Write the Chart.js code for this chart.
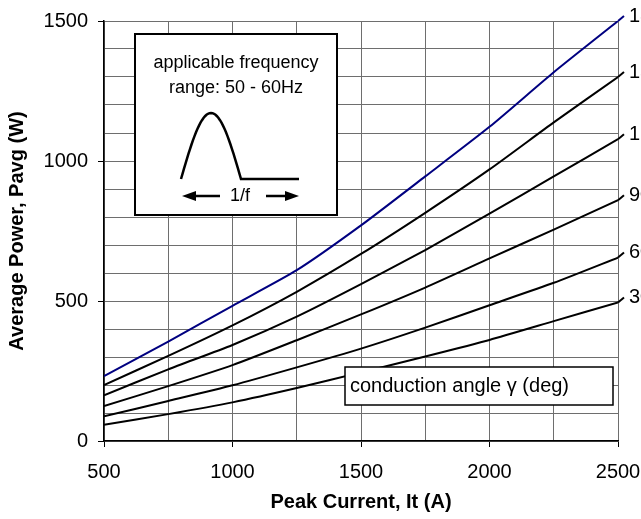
<!DOCTYPE html>
<html>
<head>
<meta charset="utf-8">
<script src="https://cdn.jsdelivr.net/npm/chart.js@4.4.1/dist/chart.umd.min.js"></script>
<style>
  html, body { margin: 0; padding: 0; background: #fff; }
  #wrap { width: 641px; height: 519px; position: relative; }
</style>
</head>
<body>
<div id="wrap"><canvas id="powerChart"></canvas></div>
<script>
// peak current It (A)
const current = [500, 750, 1000, 1250, 1500, 1750, 2000, 2250, 2500];

// average power Pavg (W), one list per conduction angle
const p180 = [232, 355, 483, 610, 770, 945, 1122, 1317, 1500];
const p150 = [200, 304, 413, 533, 668, 815, 970, 1138, 1300];
const p120 = [163, 256, 343, 444, 560, 682, 812, 945, 1078];
const p90 = [125, 196, 271, 360, 452, 548, 652, 755, 860];
const p60 = [88, 143, 199, 263, 330, 405, 485, 565, 655];
const p30 = [58, 96, 138, 189, 245, 302, 361, 428, 495];

const angles = ['180', '150', '120', '90', '60', '30'];
const series = [p180, p150, p120, p90, p60, p30];

const FONT = '"Liberation Sans", Arial, sans-serif';

Chart.defaults.font.family = FONT;
Chart.defaults.font.size = 20;
Chart.defaults.color = '#000';

// =====================================================
// OVERLAYS: curve labels, inset box, legend box
// =====================================================
const overlays = {
    id: 'overlays',
    afterDatasetsDraw(chart) {
        const ctx = chart.ctx;
        const ca = chart.chartArea;
        ctx.save();

        // labels at the end of each curve (cut by the canvas edge)
        chart.data.datasets.forEach((ds, i) => {
            const pts = chart.getDatasetMeta(i).data;
            const last = pts[pts.length - 1];
            ctx.strokeStyle = ds.borderColor;
            ctx.lineWidth = 2;
            ctx.beginPath();
            ctx.moveTo(last.x, last.y);
            ctx.lineTo(last.x + 6, last.y - 5);
            ctx.stroke();
            ctx.fillStyle = '#000';
            ctx.font = '20px ' + FONT;
            ctx.textAlign = 'left';
            ctx.textBaseline = 'middle';
            ctx.fillText(ds.label, last.x + 11, last.y - 5);
        });

        // inset: applicable frequency
        const bx = ca.left + 31, by = ca.top + 13, bw = 202, bh = 181;
        ctx.fillStyle = '#fff';
        ctx.fillRect(bx, by, bw, bh);
        ctx.strokeStyle = '#000';
        ctx.lineWidth = 2;
        ctx.strokeRect(bx, by, bw, bh);

        ctx.fillStyle = '#000';
        ctx.font = '18px ' + FONT;
        ctx.textAlign = 'center';
        ctx.textBaseline = 'middle';
        ctx.fillText('applicable frequency', bx + bw / 2, by + 29);
        ctx.fillText('range: 50 - 60Hz', bx + bw / 2, by + 54);

        // pulse shape
        const px0 = bx + 46, py0 = by + 145, pw = 60, ph = 66;
        ctx.lineWidth = 2.5;
        ctx.beginPath();
        for (let k = 0; k <= 40; k++) {
            const t = k / 40;
            const xx = px0 + t * pw;
            const yy = py0 - ph * Math.sin(Math.PI * t);
            if (k === 0) ctx.moveTo(xx, yy); else ctx.lineTo(xx, yy);
        }
        ctx.lineTo(px0 + 118, py0);
        ctx.stroke();

        // 1/f arrows
        const ay = by + 162;
        ctx.lineWidth = 2.5;
        ctx.beginPath();
        ctx.moveTo(px0 + 12, ay); ctx.lineTo(px0 + 39, ay);
        ctx.moveTo(px0 + 85, ay); ctx.lineTo(px0 + 106, ay);
        ctx.stroke();
        ctx.beginPath();
        ctx.moveTo(px0 + 1, ay); ctx.lineTo(px0 + 15, ay - 5); ctx.lineTo(px0 + 15, ay + 5);
        ctx.closePath();
        ctx.fill();
        ctx.beginPath();
        ctx.moveTo(px0 + 118, ay); ctx.lineTo(px0 + 104, ay - 5); ctx.lineTo(px0 + 104, ay + 5);
        ctx.closePath();
        ctx.fill();
        ctx.font = '18px ' + FONT;
        ctx.fillText('1/f', px0 + 59, ay);

        // conduction angle box
        const lx = ca.left + 241, ly = ca.top + 346, lw = 268, lh = 38;
        ctx.fillStyle = '#fff';
        ctx.fillRect(lx, ly, lw, lh);
        ctx.strokeStyle = '#000';
        ctx.lineWidth = 1.5;
        ctx.strokeRect(lx, ly, lw, lh);
        ctx.fillStyle = '#000';
        ctx.font = '20px ' + FONT;
        ctx.textAlign = 'left';
        ctx.fillText('conduction angle \u03B3 (deg)', lx + 5, ly + lh / 2);

        ctx.restore();
    }
};

// =====================================================
// AVERAGE POWER vs PEAK CURRENT (LINE)
// =====================================================
let powerChart = document.getElementById('powerChart');

new Chart(powerChart, {
    type: 'line',
    data: {
        datasets: series.map((vals, i) => ({
            label: angles[i],
            data: current.map((c, j) => ({ x: c, y: vals[j] })),
            borderColor: i === 0 ? '#000080' : '#000',
            borderWidth: 2,
            pointRadius: 0,
            tension: 0.2,
            fill: false
        }))
    },
    options: {
        responsive: true,
        maintainAspectRatio: false,
        animation: false,
        layout: {
            padding: { top: 21, right: 23, bottom: 0, left: 0 }
        },
        plugins: {
            legend: { display: false },
            tooltip: { enabled: false }
        },
        scales: {
            x: {
                type: 'linear',
                min: 500,
                max: 2500,
                afterFit: (s) => {
                    s.height = 78;
                    s.paddingLeft = 0;
                    s.paddingRight = 0;
                },
                grid: {
                    color: '#6e6e6e',
                    lineWidth: 1,
                    tickLength: 6,
                    tickColor: (c) => (c.tick && c.tick.value % 500 === 0) ? '#000' : 'rgba(0,0,0,0)'
                },
                border: { color: '#000', width: 1.5 },
                ticks: {
                    stepSize: 250,
                    autoSkip: false,
                    maxRotation: 0,
                    padding: 13,
                    font: { size: 20 },
                    callback: (v) => v % 500 === 0 ? v : ''
                },
                title: {
                    display: true,
                    text: 'Peak Current, It (A)',
                    font: { size: 20, weight: 'bold' },
                    padding: { top: 0, bottom: 5 }
                }
            },
            y: {
                min: 0,
                max: 1500,
                afterFit: (s) => {
                    s.width = 104;
                    s.paddingTop = 0;
                    s.paddingBottom = 0;
                },
                grid: {
                    color: '#6e6e6e',
                    lineWidth: 1,
                    tickLength: 6,
                    tickColor: (c) => (c.tick && c.tick.value % 500 === 0) ? '#000' : 'rgba(0,0,0,0)'
                },
                border: { color: '#000', width: 1.5 },
                ticks: {
                    stepSize: 100,
                    autoSkip: false,
                    padding: 10,
                    font: { size: 20 },
                    callback: (v) => v % 500 === 0 ? v : ''
                },
                title: {
                    display: true,
                    text: 'Average Power, Pavg (W)',
                    font: { size: 20, weight: 'bold' },
                    padding: { top: 5, bottom: 0 }
                }
            }
        }
    },
    plugins: [overlays]
});
</script>
</body>
</html>
